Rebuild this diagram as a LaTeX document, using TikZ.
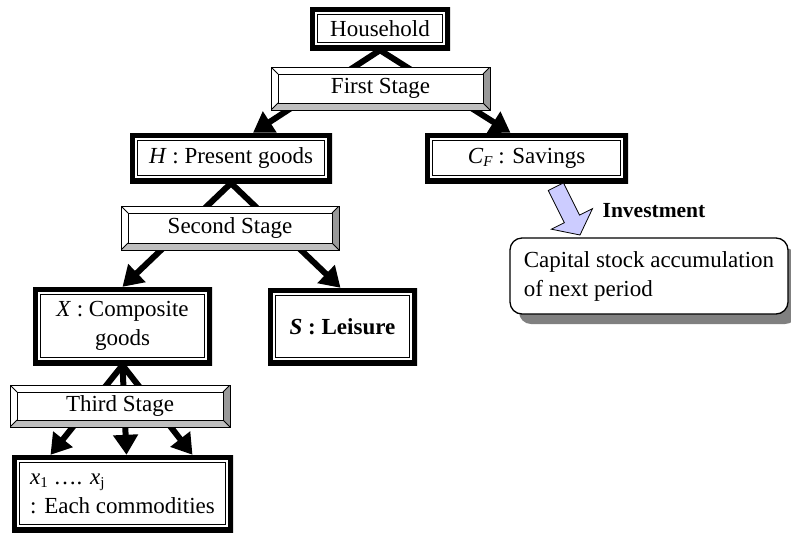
\documentclass[tikz,border=0pt]{standalone}
\usepackage{fontspec}
\setmainfont{Liberation Serif}
\usetikzlibrary{arrows.meta,backgrounds,shadows}
\definecolor{lav}{RGB}{204,204,255}
\newcommand\lowsub[1]{\raisebox{-0.35ex}{\fontsize{15}{15}\selectfont #1}}
\tikzset{
  every node/.style={font=\fontsize{23}{29}\selectfont, inner sep=0pt},
  dbox/.style={fill=white, path picture={
    \draw[line width=10pt] (path picture bounding box.south west) rectangle (path picture bounding box.north east);
    \draw[line width=1.3pt] ([shift={(7.5pt,7.5pt)}]path picture bounding box.south west) rectangle ([shift={(-7.5pt,-7.5pt)}]path picture bounding box.north east);
  }},
  bevel/.style={fill=white, draw, line width=1pt, path picture={
    \fill[black!40] (path picture bounding box.north east) -- (path picture bounding box.south east) -- ([shift={(-7pt,7pt)}]path picture bounding box.south east) -- ([shift={(-7pt,-7pt)}]path picture bounding box.north east) -- cycle;
    \fill[black!25] (path picture bounding box.south west) -- (path picture bounding box.south east) -- ([shift={(-7pt,7pt)}]path picture bounding box.south east) -- ([shift={(7pt,7pt)}]path picture bounding box.south west) -- cycle;
    \draw[line width=0.8pt] ([shift={(7pt,7pt)}]path picture bounding box.south west) rectangle ([shift={(-7pt,-7pt)}]path picture bounding box.north east);
    \draw[line width=0.8pt] (path picture bounding box.south west) -- ++(7pt,7pt) (path picture bounding box.north west) -- ++(7pt,-7pt) (path picture bounding box.north east) -- ++(-7pt,-7pt) (path picture bounding box.south east) -- ++(-7pt,7pt);
  }},
  conn/.style={line width=6pt, -{Triangle[length=20pt,width=24pt]}},
  capbox/.style={draw, line width=1.3pt, rounded corners=12pt, fill=white, align=left,
    drop shadow={shadow xshift=9pt, shadow yshift=-10pt, fill=black!50, opacity=1}},
  blockarrow/.style={fill=lav, draw=black, line width=0.8pt, line join=miter}
}
\begin{document}
\begin{tikzpicture}[x=1pt,y=-1pt]
\useasboundingbox (0,0) rectangle (791,533);
\node[dbox, minimum width=140pt, minimum height=43pt] (hh) at (380,28.5) {Household};
\node[bevel, minimum width=219pt, minimum height=43pt] (s1) at (380.5,88.5) {First Stage};
\node[dbox, minimum width=202pt, minimum height=50pt] (h) at (231,158) {\textit{H} : Present goods};
\node[dbox, minimum width=203pt, minimum height=50pt] (cf) at (526.5,158) {\textit{C}\lowsub{\textit{F}} : Savings};
\node[bevel, minimum width=218pt, minimum height=44pt] (s2) at (230,228) {Second Stage};
\node[dbox, minimum width=179pt, minimum height=78pt, align=center] (x) at (122.5,326) {\textit{X} : Composite\\goods};
\node[dbox, minimum width=149pt, minimum height=77pt] (s) at (342.5,326.5) {\textbf{\textit{S} : Leisure}};
\node[bevel, minimum width=220pt, minimum height=42pt] (s3) at (120,406) {Third Stage};
\node[dbox, minimum width=221pt, minimum height=77pt, align=left] (xs) at (122.5,493.5) {\textit{x}\lowsub{1} …. \textit{x}\lowsub{j}\\: Each commodities};
\node[capbox, minimum width=278pt, minimum height=76pt] (cap) at (649,276) {Capital stock accumulation\\of next period};
\node[font=\fontsize{21.5}{26}\selectfont\bfseries] (inv) at (654,211) {Investment};
\draw[blockarrow] (548.3,190.5) -- (563.5,182.9) -- (579.5,215.1) -- (592.5,208.6) -- (580,235) -- (551.4,229.2) -- (564.3,222.7) -- cycle;
\begin{pgfonlayer}{background}
\draw[conn] (hh.south) -- ([xshift=22pt]h.north);
\draw[conn] (hh.south) -- ([xshift=-16pt]cf.north);
\draw[conn] (h.south) -- ([xshift=0pt]x.north);
\draw[conn] (h.south) -- ([xshift=-2pt]s.north);
\draw[conn] (x.south) -- ([xshift=-72pt]xs.north);
\draw[conn] (x.south) -- ([xshift=4pt]xs.north);
\draw[conn] (x.south) -- ([xshift=70pt]xs.north);
\end{pgfonlayer}
\end{tikzpicture}
\end{document}
